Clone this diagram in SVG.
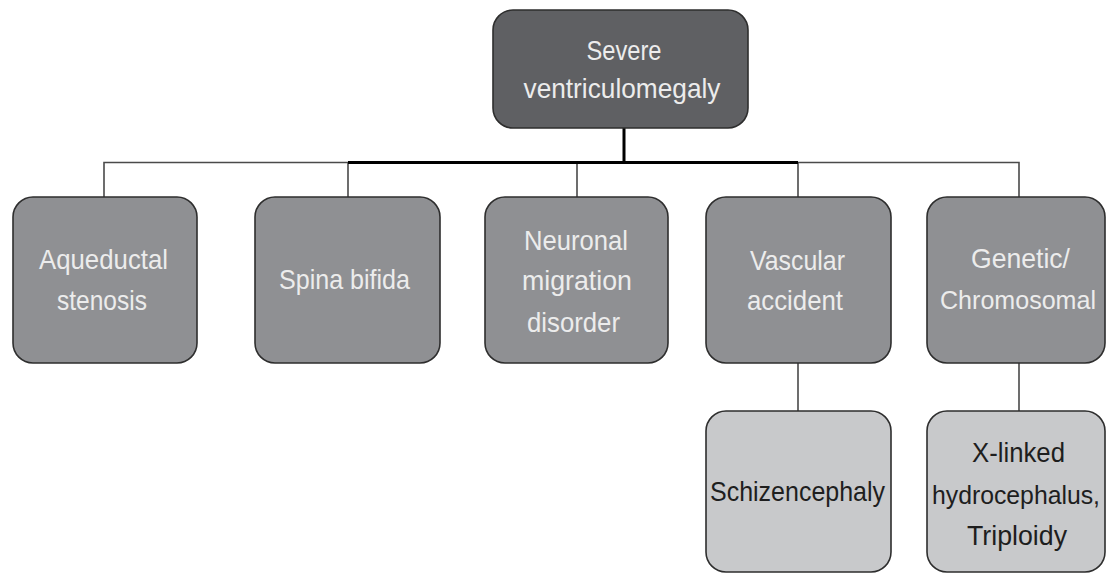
<svg xmlns="http://www.w3.org/2000/svg" width="1106" height="574" viewBox="0 0 1106 574">
<style>
.box{stroke:#2e2e2e;stroke-width:1.6}
.root{fill:#5f6063}
.mid{fill:#8f9093}
.leaf{fill:#c8c9cb}
.t{font-family:"Liberation Sans",Arial,sans-serif;font-size:28px;text-anchor:middle}
.sm{font-size:25px}
.lt{fill:#ececec}
.dk{fill:#1e1e1e}
.thin{stroke:#4a4a4a;stroke-width:1.6;fill:none}
.thick{stroke:#000;stroke-width:3;fill:none}
</style>
<rect width="1106" height="574" fill="#fff"/>
<g id="connectors">
<path class="thin" d="M104 197V162.5H348M798 162.5H1019V197"/>
<path class="thin" d="M348 162.5V197M577 162.5V197M798 162.5V197"/>
<path class="thick" d="M348 162.5H798M624 128V162.5"/>
<path class="thin" d="M798 363V411M1019 363V411"/>
</g>
<g id="root">
<rect class="box root" x="493" y="10" width="255" height="118" rx="20"/>
<text class="t lt" x="624" y="60" textLength="75" lengthAdjust="spacingAndGlyphs">Severe</text>
<text class="t lt" x="622" y="98" textLength="197" lengthAdjust="spacingAndGlyphs">ventriculomegaly</text>
</g>
<g id="aqueductal">
<rect class="box mid" x="13" y="197" width="184" height="166" rx="20"/>
<text class="t lt" x="103.5" y="269" textLength="129" lengthAdjust="spacingAndGlyphs">Aqueductal</text>
<text class="t lt" x="102" y="310" textLength="90" lengthAdjust="spacingAndGlyphs">stenosis</text>
</g>
<g id="spina">
<rect class="box mid" x="255" y="197" width="185" height="166" rx="20"/>
<text class="t lt" x="344.5" y="289" textLength="131" lengthAdjust="spacingAndGlyphs">Spina bifida</text>
</g>
<g id="neuronal">
<rect class="box mid" x="485" y="197" width="183" height="166" rx="20"/>
<text class="t lt" x="576" y="250" textLength="104" lengthAdjust="spacingAndGlyphs">Neuronal</text>
<text class="t lt" x="577" y="290" textLength="110" lengthAdjust="spacingAndGlyphs">migration</text>
<text class="t lt" x="573.5" y="332" textLength="93" lengthAdjust="spacingAndGlyphs">disorder</text>
</g>
<g id="vascular">
<rect class="box mid" x="706" y="197" width="185" height="166" rx="20"/>
<text class="t lt" x="797.5" y="270" textLength="95" lengthAdjust="spacingAndGlyphs">Vascular</text>
<text class="t lt" x="795" y="310" textLength="96" lengthAdjust="spacingAndGlyphs">accident</text>
</g>
<g id="genetic">
<rect class="box mid" x="927" y="197" width="178" height="166" rx="20"/>
<text class="t lt" x="1020.5" y="268" textLength="99" lengthAdjust="spacingAndGlyphs">Genetic/</text>
<text class="t sm lt" x="1018" y="309" textLength="156" lengthAdjust="spacingAndGlyphs">Chromosomal</text>
</g>
<g id="schizencephaly">
<rect class="box leaf" x="706" y="411" width="185" height="161" rx="20"/>
<text class="t dk" x="797.5" y="501" textLength="175" lengthAdjust="spacingAndGlyphs">Schizencephaly</text>
</g>
<g id="xlinked">
<rect class="box leaf" x="927" y="411" width="178" height="161" rx="20"/>
<text class="t dk" x="1018.5" y="462" textLength="93" lengthAdjust="spacingAndGlyphs">X-linked</text>
<text class="t sm dk" x="1016" y="504" textLength="168" lengthAdjust="spacingAndGlyphs">hydrocephalus,</text>
<text class="t dk" x="1017" y="545" textLength="100" lengthAdjust="spacingAndGlyphs">Triploidy</text>
</g>
</svg>
